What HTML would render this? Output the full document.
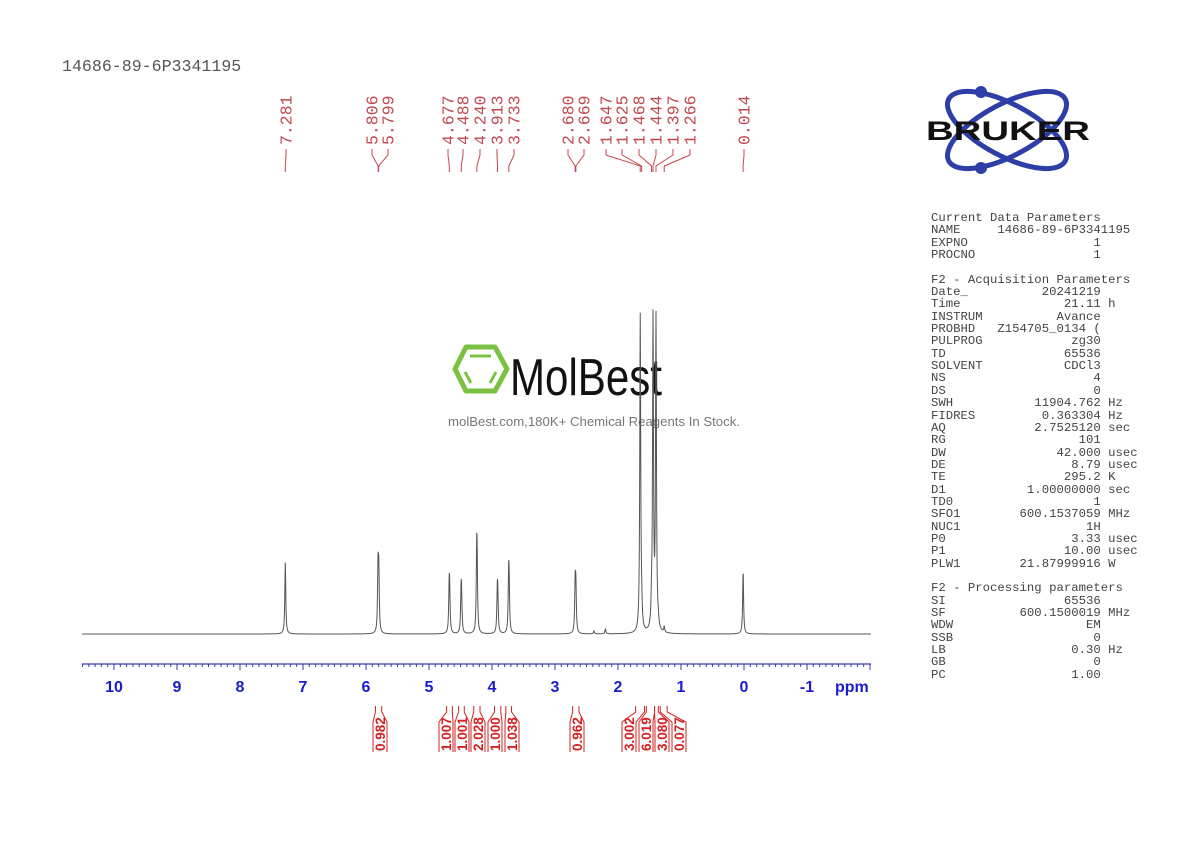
<!DOCTYPE html>
<html><head><meta charset="utf-8"><style>
html,body{margin:0;padding:0;background:#fff;}
body{width:1190px;height:842px;position:relative;overflow:hidden;}
pre{position:absolute;margin:0;font-family:"Liberation Mono",monospace;color:#444;}
</style></head><body>
<pre style="left:62px;top:58px;font-size:16.6px;line-height:18px;color:#555;">14686-89-6P3341195</pre>
<svg id="s" width="1190" height="842" style="position:absolute;left:0;top:0">
<!-- Bruker logo -->
<g fill="none" stroke="#2d3fa6" stroke-width="5">
<ellipse cx="1007" cy="130" rx="66" ry="26" transform="rotate(28 1007 130)"/>
<ellipse cx="1007" cy="130" rx="66" ry="26" transform="rotate(-28 1007 130)"/>
</g>
<circle cx="981" cy="92" r="6" fill="#2d3fa6"/><circle cx="981" cy="168" r="6" fill="#2d3fa6"/>
<text x="926" y="140" font-family="Liberation Sans,sans-serif" font-weight="bold" font-size="27" textLength="164" lengthAdjust="spacingAndGlyphs" fill="#111">BRUKER</text>
<!-- MolBest -->
<g fill="none" stroke="#7cc242" stroke-width="5" stroke-linejoin="round">
<polygon points="466,347 495,347 507,369 495,391 466,391 455,369"/>
<line x1="470" y1="356" x2="491" y2="356" stroke-width="3"/>
<line x1="465" y1="372" x2="471" y2="383" stroke-width="3"/>
<line x1="496" y1="372" x2="490" y2="383" stroke-width="3"/>
</g>
<text x="510" y="395" font-family="Liberation Sans,sans-serif" font-size="52" textLength="152" lengthAdjust="spacingAndGlyphs" fill="#111">MolBest</text>
<text x="448" y="426" font-family="Liberation Sans,sans-serif" font-size="13" textLength="292" lengthAdjust="spacingAndGlyphs" fill="#777">molBest.com,180K+ Chemical Reagents In Stock.</text>
<g id="spec"></g>
<g id="axis"></g>
<g id="pk"></g>
<g id="int"></g>
</svg>
<pre style="left:931px;top:212px;font-size:12.3px;line-height:12.35px;">Current Data Parameters
NAME     14686-89-6P3341195
EXPNO                 1
PROCNO                1

F2 - Acquisition Parameters
Date_          20241219
Time              21.11 h
INSTRUM          Avance
PROBHD   Z154705_0134 (
PULPROG            zg30
TD                65536
SOLVENT           CDCl3
NS                    4
DS                    0
SWH           11904.762 Hz
FIDRES         0.363304 Hz
AQ            2.7525120 sec
RG                  101
DW               42.000 usec
DE                 8.79 usec
TE                295.2 K
D1           1.00000000 sec
TD0                   1
SFO1        600.1537059 MHz
NUC1                 1H
P0                 3.33 usec
P1                10.00 usec
PLW1        21.87999916 W

F2 - Processing parameters
SI                65536
SF          600.1500019 MHz
WDW                  EM
SSB                   0
LB                 0.30 Hz
GB                    0
PC                 1.00</pre>
<script>
var NS="http://www.w3.org/2000/svg";
function X(p){return 744-63*p;}
function el(t,a,par,txt){var e=document.createElementNS(NS,t);for(var k in a)e.setAttribute(k,a[k]);if(txt!=null)e.textContent=txt;document.getElementById(par).appendChild(e);return e;}
var peaks=[[7.281,72],[5.809,62],[5.797,56],[4.680,40],[4.672,34],[4.491,36],[4.483,30],[4.243,68],[4.236,50],[3.916,36],[3.908,30],[3.736,49],[3.728,40],[2.680,45],[2.669,43],[2.38,3],[2.2,5],[1.647,318],[1.625,18],[1.468,20],[1.444,312],[1.397,312],[1.36,6],[1.266,6],[0.014,63]];
var d="";
for(var x=82;x<=871;x+=0.25){var y=0;for(var i=0;i<peaks.length;i++){var dx=(x-X(peaks[i][0]))/0.55;y+=peaks[i][1]/(1+dx*dx);}d+=(x==82?"M":"L")+x.toFixed(2)+" "+(634-y).toFixed(2);}
el("path",{d:d,fill:"none",stroke:"#555","stroke-width":"1"},"spec");
el("line",{x1:82,y1:664,x2:871,y2:664,stroke:"#3a3ab0","stroke-width":"1.3"},"axis");
for(var t=-20;t<=105;t++){var p=t/10,xx=X(p);if(xx<82||xx>871)continue;var maj=(t%10==0);el("line",{x1:xx,y1:664,x2:xx,y2:maj?670:667,stroke:"#3a3ab0","stroke-width":"1"},"axis");if(maj&&p>-2)el("text",{x:xx,y:692,"text-anchor":"middle","font-family":"Liberation Sans,sans-serif","font-weight":"bold","font-size":"16",fill:"#1a1ad0"},"axis",String(p));}
el("text",{x:835,y:692,"font-family":"Liberation Sans,sans-serif","font-weight":"bold","font-size":"16",fill:"#1a1ad0"},"axis","ppm");
var labs=[["7.281",286,7.281],["5.806",372,5.806],["5.799",388,5.799],["4.677",448,4.677],["4.488",463,4.488],["4.240",480,4.240],["3.913",497,3.913],["3.733",514,3.733],["2.680",568,2.680],["2.669",584,2.669],["1.647",606,1.647],["1.625",622,1.625],["1.468",639,1.468],["1.444",656,1.444],["1.397",673,1.397],["1.266",690,1.266],["0.014",744,0.014]];
labs.forEach(function(l){el("text",{transform:"translate("+(l[1]+5.5)+",145) rotate(-90)","font-family":"Liberation Mono,monospace","font-size":"16.5",fill:"#c2474f"},"pk",l[0]);
el("polyline",{points:l[1]+",149 "+l[1]+",155 "+X(l[2])+",166 "+X(l[2])+",172",fill:"none",stroke:"#c2474f","stroke-width":"1"},"pk");});
var ints=[["0.982",380,5.85,5.75],["1.007",446,4.72,4.63],["1.001",462,4.53,4.44],["2.028",478,4.29,4.19],["1.000",495,3.96,3.86],["1.038",512,3.78,3.69],["0.962",577,2.72,2.62],["3.002",629,1.72,1.58],["6.019",646,1.55,1.42],["3.080",662,1.42,1.36],["0.077",679,1.33,1.22]];
ints.forEach(function(l){var a=X(l[2]),b=X(l[3]);var c=l[1];
el("polyline",{points:a+",706 "+a+",712 "+(c-7)+",722 "+(c-7)+",752",fill:"none",stroke:"#d42020","stroke-width":"1"},"int");
el("polyline",{points:b+",706 "+b+",712 "+(c+7)+",722 "+(c+7)+",752",fill:"none",stroke:"#d42020","stroke-width":"1"},"int");
el("text",{transform:"translate("+(c+5)+",751) rotate(-90)","font-family":"Liberation Sans,sans-serif","font-weight":"bold","font-size":"13.5",fill:"#d42020"},"int",l[0]);});
</script>
</body></html>
